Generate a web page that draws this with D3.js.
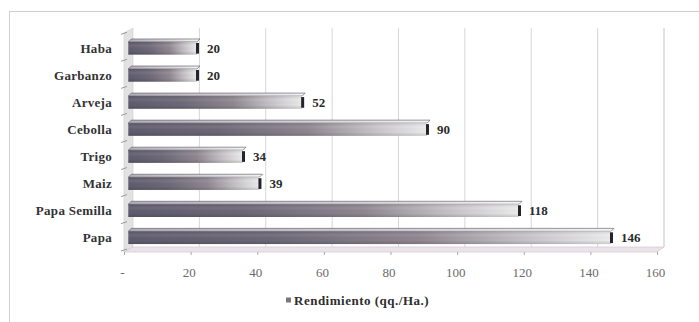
<!DOCTYPE html>
<html>
<head>
<meta charset="utf-8">
<script src="https://cdn.jsdelivr.net/npm/d3@7/dist/d3.min.js"></script>
<style>
  html, body { margin: 0; padding: 0; background: #ffffff; }
  svg { display: block; }
  svg text { font-family: "Liberation Serif", "Times New Roman", serif; }
</style>
</head>
<body>
<svg id="chart" width="699" height="322"></svg>
<script>
// Rendimiento por cultivo (qq./Ha.)
const categories = ["Haba", "Garbanzo", "Arveja", "Cebolla", "Trigo", "Maiz", "Papa Semilla", "Papa"];
const rendimiento = [20, 20, 52, 90, 34, 39, 118, 146];
const tickValues = [0, 20, 40, 60, 80, 100, 120, 140, 160];
const tickLabels = ["-", "20", "40", "60", "80", "100", "120", "140", "160"];
const legendLabel = "Rendimiento (qq./Ha.)";

const data = categories.map((c, i) => ({ cat: c, value: rendimiento[i] }));

const svg = d3.select("#chart");

// Chart frame
svg.append("rect")
  .attr("x", 9.5).attr("y", 11.5).attr("width", 700).attr("height", 320)
  .attr("fill", "#ffffff").attr("stroke", "#cfcfcf").attr("stroke-width", 1);

// 3D box geometry: front plane (floor edge / axis) and back wall
const floorFront = 252, floorBack = 247, wallTop = 28;
const xFront = d3.scaleLinear().domain([0, 160]).range([124, 657]);
const xBack = d3.scaleLinear().domain([0, 160]).range([133, 664]);
const xBar = d3.scaleLinear().domain([0, 160]).range([131.3, 657]);
const y = d3.scaleBand().domain(categories).range([33, 250]).paddingInner(0.42).paddingOuter(0.22);

// Back wall
svg.append("rect")
  .attr("x", xBack(0)).attr("y", wallTop)
  .attr("width", xBack(160) - xBack(0)).attr("height", floorBack - wallTop)
  .attr("fill", "#ffffff");

// Vertical gridlines on the back wall
svg.append("g").selectAll("line")
  .data(tickValues.slice(1))
  .join("line")
  .attr("x1", d => xBack(d)).attr("x2", d => xBack(d))
  .attr("y1", wallTop).attr("y2", floorBack)
  .attr("stroke", d => d === 160 ? "#c4c4c4" : "#d6d6d6")
  .attr("stroke-width", 1);

// Left side wall
svg.append("polygon")
  .attr("points", [[xFront(0), wallTop + 5], [xBack(0), wallTop], [xBack(0), floorBack], [xFront(0), floorFront]].map(p => p.join(",")).join(" "))
  .attr("fill", "#e2e2e2").attr("stroke", "#cfcfcf").attr("stroke-width", 0.6);

// Floor
svg.append("polygon")
  .attr("points", [[xFront(0), floorFront], [xFront(160), floorFront], [xBack(160), floorBack], [xBack(0), floorBack]].map(p => p.join(",")).join(" "))
  .attr("fill", "#ebe3e9").attr("stroke", "#d6ccd4").attr("stroke-width", 0.8);

// Category ticks on the side wall
const bandEdges = categories.map(c => y(c) - y.step() * y.paddingInner() / 2).concat([floorFront - 2]);
svg.append("g").selectAll("line")
  .data(bandEdges)
  .join("line")
  .attr("x1", xFront(0) - 3).attr("x2", xFront(0) + 3)
  .attr("y1", d => d + 1).attr("y2", d => d - 1)
  .attr("stroke", "#9a9a9a").attr("stroke-width", 1);

// Gradients for the bars
const defs = svg.append("defs");
const gFront = defs.append("linearGradient").attr("id", "barFront")
  .attr("x1", "0%").attr("x2", "100%").attr("y1", "0%").attr("y2", "0%");
[["0%", "#5e5b6d"], ["30%", "#6c6877"], ["60%", "#8f8690"], ["82%", "#c6c3c8"], ["100%", "#ececec"]]
  .forEach(([o, c]) => gFront.append("stop").attr("offset", o).attr("stop-color", c));
const gTop = defs.append("linearGradient").attr("id", "barTop")
  .attr("x1", "0%").attr("x2", "100%").attr("y1", "0%").attr("y2", "0%");
[["0%", "#b3afba"], ["60%", "#d6d3d9"], ["100%", "#f4f4f4"]]
  .forEach(([o, c]) => gTop.append("stop").attr("offset", o).attr("stop-color", c));
const gShade = defs.append("linearGradient").attr("id", "barShade")
  .attr("x1", "0%").attr("x2", "0%").attr("y1", "0%").attr("y2", "100%");
[["0%", "#000", 0.10], ["30%", "#fff", 0.08], ["70%", "#000", 0.0], ["100%", "#000", 0.15]]
  .forEach(([o, c, a]) => gShade.append("stop").attr("offset", o).attr("stop-color", c).attr("stop-opacity", a));

const topDepth = 3;
const bars = svg.append("g").selectAll("g")
  .data(data)
  .join("g");

// Top face of each bar
bars.append("polygon")
  .attr("points", d => {
    const y0 = y(d.cat) + topDepth;
    const x0 = xBar(0) - 3, x1 = xBar(d.value);
    return [[x0, y0], [x1, y0], [x1 + 3, y0 - topDepth], [x0 + 3, y0 - topDepth]].map(p => p.join(",")).join(" ");
  })
  .attr("fill", "url(#barTop)")
  .attr("stroke", "#55525c").attr("stroke-width", 0.6);

// Front face of each bar
bars.append("rect")
  .attr("x", xBar(0) - 3)
  .attr("y", d => y(d.cat) + topDepth)
  .attr("width", d => xBar(d.value) - xBar(0) + 3)
  .attr("height", y.bandwidth() - topDepth)
  .attr("fill", "url(#barFront)");
bars.append("rect")
  .attr("x", xBar(0) - 3)
  .attr("y", d => y(d.cat) + topDepth)
  .attr("width", d => xBar(d.value) - xBar(0) + 3)
  .attr("height", y.bandwidth() - topDepth)
  .attr("fill", "url(#barShade)");

// Dark end face of each bar
bars.append("rect")
  .attr("x", d => xBar(d.value) - 1)
  .attr("y", d => y(d.cat) + topDepth + 1)
  .attr("width", 3)
  .attr("height", y.bandwidth() - topDepth - 2)
  .attr("fill", "#26242a");

// Value labels
bars.append("text")
  .attr("x", d => xBar(d.value) + 10)
  .attr("y", d => y(d.cat) + topDepth + (y.bandwidth() - topDepth) / 2)
  .attr("dy", "0.36em")
  .style("font-weight", "bold").style("font-size", "13px")
  .attr("fill", "#2a2a2a")
  .text(d => d.value);

// Category labels
svg.append("g").selectAll("text")
  .data(categories)
  .join("text")
  .attr("x", 112)
  .attr("y", d => y(d) + topDepth + (y.bandwidth() - topDepth) / 2)
  .attr("dy", "0.36em")
  .attr("text-anchor", "end")
  .style("font-weight", "bold").style("font-size", "13px")
  .style("letter-spacing", "0.3px")
  .attr("fill", "#333333")
  .text(d => d);

// Value axis along the front edge of the floor
const axis = d3.axisBottom(xFront)
  .tickValues(tickValues)
  .tickFormat((d, i) => tickLabels[i])
  .tickSize(3)
  .tickPadding(13);
const ax = svg.append("g")
  .attr("transform", `translate(0,${floorFront})`)
  .call(axis);
ax.attr("font-family", null).attr("font-size", null);
ax.select(".domain").remove();
ax.selectAll(".tick line").attr("stroke", "#a8a8a8");
ax.selectAll(".tick text")
  .style("font-size", "13px")
  .attr("fill", "#6a6a6a")
  .attr("dx", "-2");

// Legend
const legend = svg.append("g").attr("transform", "translate(286,300)");
legend.append("rect")
  .attr("x", 0).attr("y", -2.5).attr("width", 5).attr("height", 5)
  .attr("fill", "#7a7680");
legend.append("text")
  .attr("x", 8).attr("y", 0).attr("dy", "0.35em")
  .style("font-weight", "bold").style("font-size", "13px")
  .style("letter-spacing", "0.5px")
  .attr("fill", "#2e2e2e")
  .text(legendLabel);
</script>
</body>
</html>
